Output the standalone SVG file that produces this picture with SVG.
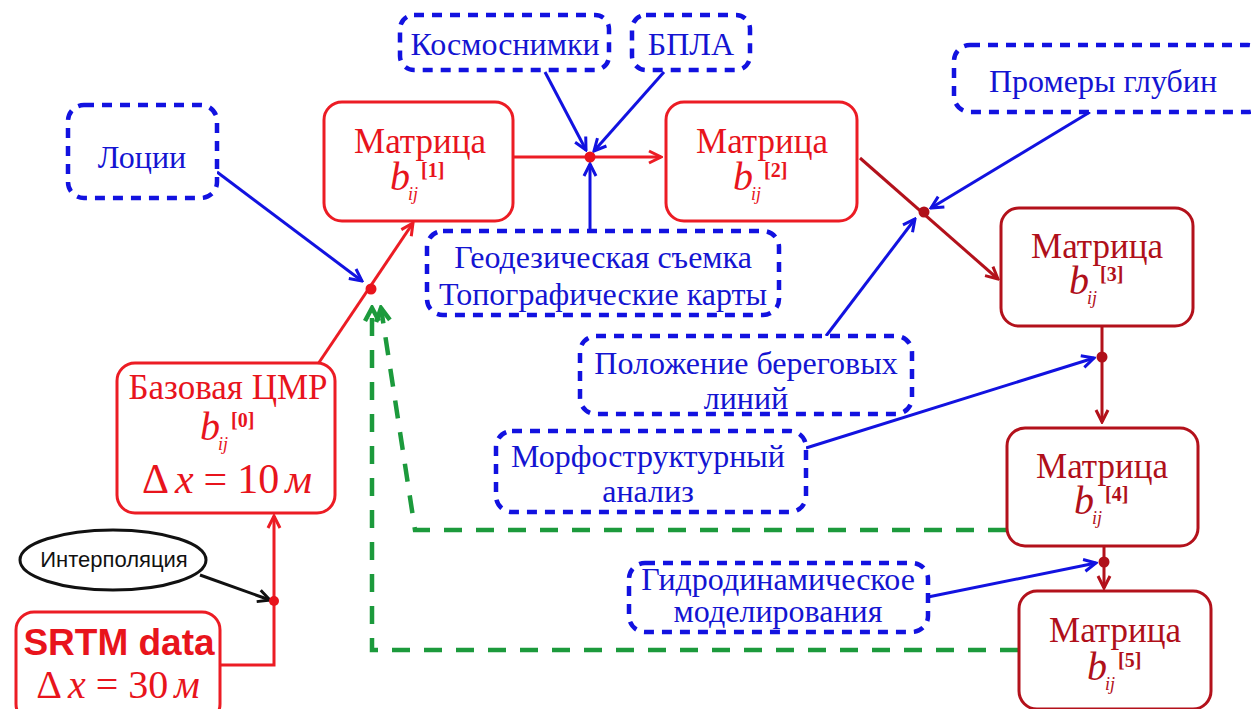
<svg xmlns="http://www.w3.org/2000/svg" width="1251" height="709" viewBox="0 0 1251 709">
<style>
.bg{fill:#ffffff}
.dbox{fill:#ffffff;stroke:#1212e0;stroke-width:4.5;stroke-dasharray:10 8}
.rbox{fill:#ffffff;stroke:#ec1c24;stroke-width:3}
.kbox{fill:#ffffff;stroke:#b3111b;stroke-width:3}
.bt{font-family:"Liberation Serif","Times New Roman",serif;font-size:32px;fill:#1414d2;text-anchor:middle}
.rt{font-family:"Liberation Serif","Times New Roman",serif;font-size:35px;fill:#e8141c;text-anchor:middle}
.kt{font-family:"Liberation Serif","Times New Roman",serif;font-size:35px;fill:#b0101a;text-anchor:middle}
.bij{font-family:"Liberation Serif","Times New Roman",serif}
.bi{font-style:italic;font-size:40px}
.sub{font-style:italic;font-size:18px}
.sup{font-weight:bold;font-size:20px}
.red{fill:#e8141c}
.dk{fill:#b0101a}
.lr{stroke:#ec1c24;stroke-width:3;fill:none}
.lk{stroke:#b3111b;stroke-width:3;fill:none}
.lb{stroke:#1212e0;stroke-width:3;fill:none}
.lg{stroke:#1c9a3c;stroke-width:4.5;fill:none;stroke-dasharray:18 14}
.lbk{stroke:#111111;stroke-width:3;fill:none}
</style>
<defs>
<marker id="aR" viewBox="0 0 16 16" markerWidth="16" markerHeight="16" refX="14" refY="8" orient="auto" markerUnits="userSpaceOnUse"><path d="M2,2 L14,8 L2,14" fill="none" stroke="#ec1c24" stroke-width="3"/></marker>
<marker id="aK" viewBox="0 0 16 16" markerWidth="16" markerHeight="16" refX="14" refY="8" orient="auto" markerUnits="userSpaceOnUse"><path d="M2,2 L14,8 L2,14" fill="none" stroke="#b3111b" stroke-width="3"/></marker>
<marker id="aB" viewBox="0 0 16 16" markerWidth="16" markerHeight="16" refX="14" refY="8" orient="auto" markerUnits="userSpaceOnUse"><path d="M2,2 L14,8 L2,14" fill="none" stroke="#1212e0" stroke-width="3"/></marker>
<marker id="aBk" viewBox="0 0 16 16" markerWidth="16" markerHeight="16" refX="14" refY="8" orient="auto" markerUnits="userSpaceOnUse"><path d="M2,2 L14,8 L2,14" fill="none" stroke="#111111" stroke-width="3"/></marker>
<marker id="aG" viewBox="0 0 18 18" markerWidth="18" markerHeight="18" refX="15" refY="9" orient="auto" markerUnits="userSpaceOnUse"><path d="M2,2 L15,9 L2,16" fill="none" stroke="#1c9a3c" stroke-width="4.5"/></marker>
</defs>
<rect class="bg" x="0" y="0" width="1251" height="709"/>

<g id="connectors">
<path class="lg" d="M1006,530 L415,530 L381,308" marker-end="url(#aG)"/>
<path class="lg" d="M1018,650 L372,650 L372,308" marker-end="url(#aG)"/>
<path class="lr" d="M220,665 L274,665 L274,516" marker-end="url(#aR)"/>
<line class="lbk" x1="200" y1="575" x2="270" y2="600" marker-end="url(#aBk)"/>
<line class="lr" x1="318" y1="364" x2="413" y2="223" marker-end="url(#aR)"/>
<line class="lb" x1="217" y1="172" x2="362" y2="281" marker-end="url(#aB)"/>
<line class="lr" x1="514" y1="157" x2="661" y2="157" marker-end="url(#aR)"/>
<line class="lb" x1="545" y1="72" x2="586" y2="150" marker-end="url(#aB)"/>
<line class="lb" x1="664" y1="72" x2="594" y2="151" marker-end="url(#aB)"/>
<line class="lb" x1="590" y1="232" x2="590" y2="164" marker-end="url(#aB)"/>
<line class="lk" x1="860" y1="158" x2="998" y2="279" marker-end="url(#aK)"/>
<line class="lb" x1="1090" y1="112" x2="931" y2="208" marker-end="url(#aB)"/>
<line class="lb" x1="826" y1="336" x2="915" y2="219" marker-end="url(#aB)"/>
<line class="lk" x1="1102" y1="326" x2="1102" y2="422" marker-end="url(#aK)"/>
<line class="lb" x1="806" y1="448" x2="1094" y2="358" marker-end="url(#aB)"/>
<line class="lk" x1="1104" y1="547" x2="1104" y2="588" marker-end="url(#aK)"/>
<line class="lb" x1="928" y1="597" x2="1096" y2="563" marker-end="url(#aB)"/>
<circle cx="274" cy="601" r="5" class="red"/>
<circle cx="371" cy="289" r="5.5" class="red"/>
<circle cx="590" cy="157" r="5.5" class="red"/>
<circle cx="924" cy="212" r="5.5" class="dk"/>
<circle cx="1102" cy="357" r="5.5" class="dk"/>
<circle cx="1104" cy="562" r="5.5" class="dk"/>
</g>

<g id="lotsii">
<rect class="dbox" x="68" y="105" width="149" height="93" rx="16"/>
<text class="bt" x="142" y="168">Лоции</text>
</g>
<g id="kosmos">
<rect class="dbox" x="400" y="15" width="209" height="55" rx="14"/>
<text class="bt" x="505" y="55">Космоснимки</text>
</g>
<g id="bpla">
<rect class="dbox" x="632" y="15" width="118" height="55" rx="14"/>
<text class="bt" x="691" y="55">БПЛА</text>
</g>
<g id="promery">
<rect class="dbox" x="954" y="45" width="310" height="67" rx="16"/>
<text class="bt" x="1103" y="92">Промеры глубин</text>
</g>
<g id="geodez">
<rect class="dbox" x="427" y="231" width="352" height="84" rx="16"/>
<text class="bt" x="603" y="268">Геодезическая съемка</text>
<text class="bt" x="603" y="305">Топографические карты</text>
</g>
<g id="polozhenie">
<rect class="dbox" x="580" y="336" width="332" height="78" rx="16"/>
<text class="bt" x="746" y="374">Положение береговых</text>
<text class="bt" x="746" y="409">линий</text>
</g>
<g id="morfo">
<rect class="dbox" x="496" y="431" width="310" height="81" rx="16"/>
<text class="bt" x="648" y="467">Морфоструктурный</text>
<text class="bt" x="648" y="502">анализ</text>
</g>
<g id="gidro">
<rect class="dbox" x="629" y="563" width="299" height="69" rx="16"/>
<text class="bt" x="778" y="590">Гидродинамическое</text>
<text class="bt" x="778" y="622">моделирования</text>
</g>

<g id="interp">
<ellipse cx="113" cy="560" rx="93" ry="30" fill="#ffffff" stroke="#111111" stroke-width="3"/>
<text x="114" y="567" font-family="Liberation Sans, Arial, sans-serif" font-size="22" fill="#111111" text-anchor="middle">Интерполяция</text>
</g>

<g id="srtm">
<rect class="rbox" x="16" y="612" width="204" height="110" rx="18"/>
<text x="119" y="655" font-family="Liberation Sans, Arial, sans-serif" font-size="37" font-weight="bold" fill="#e8141c" text-anchor="middle">SRTM data</text>
<text x="118" y="698" font-family="Liberation Serif, serif" font-size="40" fill="#e8141c" text-anchor="middle">Δ<tspan font-style="italic" dx="6">x</tspan><tspan dx="10">=</tspan><tspan dx="10">30</tspan><tspan font-style="italic" dx="6">м</tspan></text>
</g>

<g id="base">
<rect class="rbox" x="117" y="363" width="218" height="150" rx="18"/>
<text class="rt" x="228" y="399">Базовая ЦМР</text>
<text class="bij red" x="200" y="440"><tspan class="bi">b</tspan><tspan class="sub" dx="-2" dy="10">ij</tspan><tspan class="sup" dx="3" dy="-23">[0]</tspan></text>
<text x="227" y="493" font-family="Liberation Serif, serif" font-size="42" fill="#e8141c" text-anchor="middle">Δ<tspan font-style="italic" dx="6">x</tspan><tspan dx="10">=</tspan><tspan dx="10">10</tspan><tspan font-style="italic" dx="6">м</tspan></text>
</g>

<g id="m1">
<rect class="rbox" x="324" y="102" width="189" height="119" rx="18"/>
<text class="rt" x="420" y="153">Матрица</text>
<text class="bij red" x="390" y="190"><tspan class="bi">b</tspan><tspan class="sub" dx="-2" dy="10">ij</tspan><tspan class="sup" dx="3" dy="-23">[1]</tspan></text>
</g>
<g id="m2">
<rect class="rbox" x="666" y="102" width="191" height="119" rx="18"/>
<text class="rt" x="762" y="153">Матрица</text>
<text class="bij red" x="733" y="190"><tspan class="bi">b</tspan><tspan class="sub" dx="-2" dy="10">ij</tspan><tspan class="sup" dx="3" dy="-23">[2]</tspan></text>
</g>
<g id="m3">
<rect class="kbox" x="1001" y="208" width="192" height="118" rx="18"/>
<text class="kt" x="1097" y="258">Матрица</text>
<text class="bij dk" x="1069" y="294"><tspan class="bi">b</tspan><tspan class="sub" dx="-2" dy="10">ij</tspan><tspan class="sup" dx="3" dy="-23">[3]</tspan></text>
</g>
<g id="m4">
<rect class="kbox" x="1007" y="428" width="191" height="118" rx="18"/>
<text class="kt" x="1102" y="478">Матрица</text>
<text class="bij dk" x="1074" y="514"><tspan class="bi">b</tspan><tspan class="sub" dx="-2" dy="10">ij</tspan><tspan class="sup" dx="3" dy="-23">[4]</tspan></text>
</g>
<g id="m5">
<rect class="kbox" x="1019" y="591" width="192" height="118" rx="18"/>
<text class="kt" x="1115" y="642">Матрица</text>
<text class="bij dk" x="1087" y="680"><tspan class="bi">b</tspan><tspan class="sub" dx="-2" dy="10">ij</tspan><tspan class="sup" dx="3" dy="-23">[5]</tspan></text>
</g>
</svg>
